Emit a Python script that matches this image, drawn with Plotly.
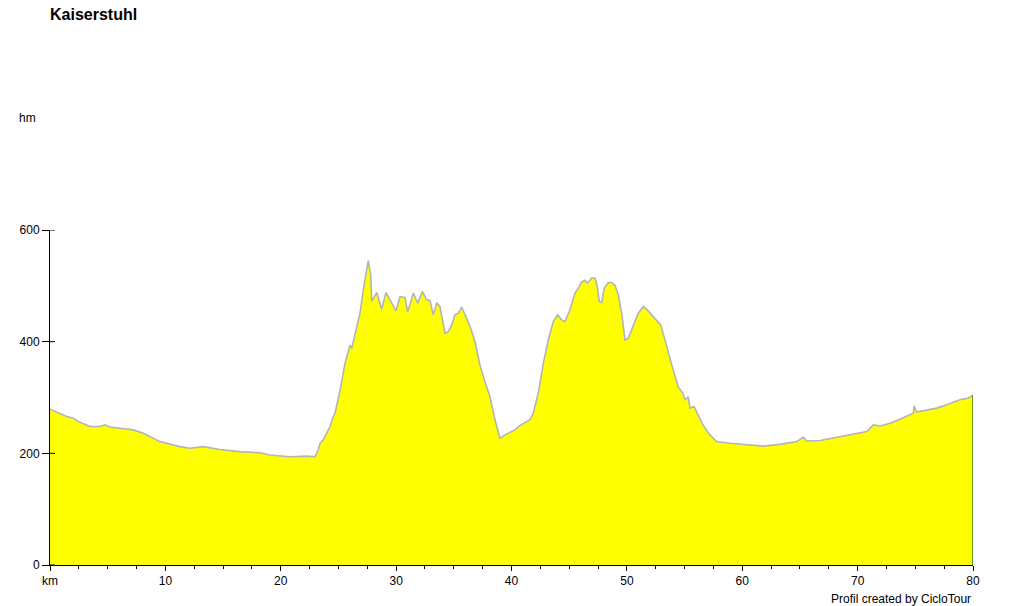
import plotly.graph_objects as go

# Distance (km) and elevation (m) read from the profile
km = [0, 0.43, 1.45, 2.02, 2.45, 3.47, 4.33, 4.77, 5.2, 6.07, 7.22, 8.09, 9.53,
      11.27, 12.13, 13.29, 14.73, 16.47, 17.62, 18.2, 19.07, 20.8, 22.25, 22.97,
      23.25, 23.4, 23.69, 23.98, 24.27, 24.56, 24.7, 24.99, 25.14, 25.57, 25.86,
      26.0, 26.15, 26.44, 26.87, 27.16, 27.45, 27.59, 27.8, 27.89, 28.32, 28.75,
      29.12, 29.47, 29.99, 30.34, 30.77, 31.0, 31.49, 31.87, 32.27, 32.65, 32.94,
      33.22, 33.52, 33.8, 34.24, 34.52, 34.82, 35.1, 35.39, 35.68, 35.97, 36.4,
      36.84, 37.27, 37.7, 38.14, 38.57, 39.0, 39.44, 39.87, 40.3, 40.74, 41.6,
      41.89, 42.32, 42.76, 43.19, 43.62, 44.0, 44.35, 44.64, 45.07, 45.5, 45.79,
      46.08, 46.37, 46.57, 46.95, 47.24, 47.44, 47.61, 47.82, 48.04, 48.39, 48.68,
      48.97, 49.26, 49.55, 49.84, 50.12, 50.56, 50.99, 51.42, 51.77, 52.15, 52.58,
      52.93, 53.22, 53.59, 54.02, 54.46, 54.84, 55.04, 55.32, 55.47, 55.82, 56.19,
      56.62, 57.2, 57.78, 58.94, 60.38, 61.82, 63.27, 64.72, 65.29, 65.59, 66.74,
      68.19, 69.62, 70.79, 71.36, 71.94, 72.8, 73.67, 74.82, 74.9, 75.1, 75.99,
      76.86, 77.72, 78.87, 79.59, 80.0]
elev = [279, 275, 266, 263, 257, 248, 248, 251, 247, 245, 242, 236, 221,
        212, 209, 212, 207, 203, 201, 201, 197, 194, 195, 194,
        206, 218, 224, 236, 248, 266, 272, 299, 313, 361, 385,
        394, 388, 415, 451, 493, 528, 545, 519, 472, 488, 458,
        488, 475, 455, 481, 479, 453, 487, 469, 490, 475, 474,
        448, 469, 463, 415, 418, 430, 448, 451, 462, 448, 428,
        400, 358, 328, 301, 260, 227, 233, 237, 242, 250, 260,
        272, 308, 361, 403, 436, 448, 439, 436, 457, 487, 496,
        507, 510, 505, 514, 514, 498, 472, 470, 496, 506, 506,
        501, 484, 451, 403, 406, 430, 451, 463, 457, 448, 439,
        430, 409, 379, 349, 319, 308, 296, 301, 281, 284, 268,
        250, 233, 221, 218, 215, 213, 216, 221, 229, 222, 223,
        229, 235, 239, 251, 249, 254, 261, 272, 285, 274, 278,
        281, 287, 296, 299, 304]

x_tickvals = [0, 10, 20, 30, 40, 50, 60, 70, 80]
x_ticktext = ["km", "10", "20", "30", "40", "50", "60", "70", "80"]
y_tickvals = [0, 200, 400, 600]

font_family = "Liberation Sans, Arial, sans-serif"

fig = go.Figure()
fig.add_trace(go.Scatter(
    x=km, y=elev, mode="lines", fill="tozeroy",
    fillcolor="#FFFF00", line=dict(color="#B4B4B4", width=1.6),
    hoverinfo="x+y", showlegend=False,
))
fig.add_trace(go.Scatter(
    x=[km[-1], km[-1]], y=[0, elev[-1]], mode="lines",
    line=dict(color="#2E7D32", width=1.5), showlegend=False, hoverinfo="skip",
))

# inside part of the crossing y ticks
for v in y_tickvals:
    fig.add_shape(type="line", xref="x domain", yref="y",
                  x0=0, x1=5 / 923, y0=v, y1=v,
                  line=dict(color="black", width=1))

fig.update_layout(
    width=1024, height=606,
    margin=dict(l=50, r=51, t=230, b=41),
    paper_bgcolor="white", plot_bgcolor="white",
    font=dict(family=font_family, size=12, color="black"),
    showlegend=False,
    annotations=[
        dict(text="<b>Kaiserstuhl</b>", xref="paper", yref="paper",
             x=-2 / 923, y=(565 - 14) / 335, xanchor="left", yanchor="middle",
             showarrow=False, font=dict(size=16, family=font_family)),
        dict(text="hm", xref="paper", yref="paper",
             x=-33 / 923, y=(565 - 118) / 335, xanchor="left", yanchor="middle",
             showarrow=False, font=dict(size=12, family=font_family)),
        dict(text="Profil created by CicloTour", xref="paper", yref="paper",
             x=1, y=(565 - 599) / 335, xanchor="right", yanchor="middle",
             showarrow=False, font=dict(size=12, family=font_family)),
    ],
)
fig.update_xaxes(
    range=[0, 80], showgrid=False, zeroline=False,
    showline=True, linecolor="black", linewidth=1,
    tickmode="array", tickvals=x_tickvals, ticktext=x_ticktext,
    ticks="outside", ticklen=5, tickcolor="black",
    minor=dict(dtick=2.5, ticks="outside", ticklen=3, tickcolor="black", showgrid=False),
    fixedrange=True,
)
fig.update_yaxes(
    range=[0, 600], showgrid=False, zeroline=False,
    showline=True, linecolor="black", linewidth=1,
    tickmode="array", tickvals=y_tickvals,
    ticks="outside", ticklen=7, tickcolor="black",
    fixedrange=True,
)

fig.write_html(
    "out.html",
    config={"displayModeBar": False},
    post_script="document.body.style.margin='0';document.body.style.overflow='hidden';",
)
